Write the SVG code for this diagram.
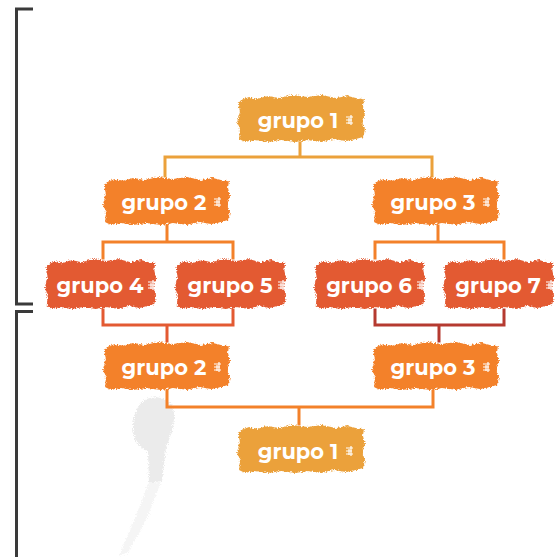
<svg xmlns="http://www.w3.org/2000/svg" width="559" height="557" viewBox="0 0 559 557">
  <style>
    .lbl { font-family: "Montserrat", "Open Sans", "Liberation Sans", sans-serif; font-weight: 700; font-size: 21px; fill: #ffffff; text-anchor: middle; }
    .conn { fill: none; stroke-width: 3; stroke-linecap: square; }
    .bracket { fill: none; stroke: #3a3a3a; stroke-width: 3; }
    .marks { stroke: #ffffff; stroke-width: 1.2; fill: none; }
    .c-top { fill: #EBA13B; }
    .c-mid { fill: #F3812A; }
    .c-low { fill: #E35A32; }
  </style>
  <defs>
    <!-- ragged paint-stroke edge -->
    <filter id="rough" x="-10%" y="-20%" width="120%" height="140%">
      <feTurbulence type="fractalNoise" baseFrequency="0.7" numOctaves="2" seed="3" result="n"/>
      <feDisplacementMap in="SourceGraphic" in2="n" scale="4" xChannelSelector="R" yChannelSelector="G"/>
    </filter>
    <filter id="grain" x="-10%" y="-10%" width="120%" height="120%">
      <feTurbulence type="fractalNoise" baseFrequency="0.9" numOctaves="2" seed="7" result="n"/>
      <feDisplacementMap in="SourceGraphic" in2="n" scale="6" xChannelSelector="R" yChannelSelector="G"/>
    </filter>
    <path id="brush" d="M4,6 L12,3 L20,5 L30,2 L42,4 L55,1 L70,3 L84,1 L98,4 L110,2 L122,5 L126,4 L125,12 L127,20 L124,28 L127,36 L125,44 L118,46 L108,48 L96,46 L84,49 L70,47 L58,49 L44,47 L30,49 L18,47 L8,49 L2,46 L3,36 L0,28 L3,18 L1,10 Z"/>
    <path id="tick" d="M0,0 h7 M0,3 h6 M0,6 h7 M5,-2 v10 M3,1 v6"/>
  </defs>

  <!-- side brackets -->
  <g id="brackets">
    <path class="bracket" d="M33,9 H16.5 V304 H33"/>
    <path class="bracket" d="M33,311.5 H16.5 V557"/>
  </g>

  <!-- faint hand holding a brush -->
  <g id="hand" fill="#ebebeb" filter="url(#grain)">
    <path d="M150,398 C161,395 173,401 174,413 C175,426 169,440 166,448 L162,481 L149,483 L148,451 C140,449 133,440 133,428 C133,412 140,400 150,398 Z"/>
    <path d="M149,483 L161,482 L146,520 L128,552 L119,556 L134,520 Z" opacity="0.5"/>
  </g>

  <!-- connectors -->
  <g id="connectors">
    <path class="conn" stroke="#EBA13B" d="M300,143 V157 M165,176 V157 H432 V176"/>
    <path class="conn" stroke="#F3812A" d="M167,226 V242 M103,258 V242 H233 V258"/>
    <path class="conn" stroke="#F3812A" d="M438,226 V242 M375,258 V242 H504 V258"/>
    <path class="conn" stroke="#E35A32" d="M103,310 V325 H233 V310 M167,325 V341"/>
    <path class="conn" stroke="#B53A30" d="M375,310 V325 H504 V310 M439,325 V341"/>
    <path class="conn" stroke="#F3812A" d="M167,391 V407 H433 V391 M299,407 V424"/>
  </g>

  <!-- nodes -->
  <g id="node-g1-top">
    <use href="#brush" class="c-top" filter="url(#rough)" transform="translate(237,94) scale(1.008,0.98)"/>
    <text class="lbl" x="298" y="128">grupo 1</text>
    <use href="#tick" class="marks" transform="translate(346,117)"/>
  </g>
  <g id="node-g2-top">
    <use href="#brush" class="c-mid" filter="url(#rough)" transform="translate(103,176)"/>
    <text class="lbl" x="164" y="210">grupo 2</text>
    <use href="#tick" class="marks" transform="translate(214,199)"/>
  </g>
  <g id="node-g3-top">
    <use href="#brush" class="c-mid" filter="url(#rough)" transform="translate(372,176)"/>
    <text class="lbl" x="433" y="210">grupo 3</text>
    <use href="#tick" class="marks" transform="translate(483,199)"/>
  </g>
  <g id="node-g4">
    <use href="#brush" class="c-low" filter="url(#rough)" transform="translate(45,258) scale(0.875,1.04)"/>
    <text class="lbl" x="100" y="293">grupo 4</text>
    <use href="#tick" class="marks" transform="translate(148,282)"/>
  </g>
  <g id="node-g5">
    <use href="#brush" class="c-low" filter="url(#rough)" transform="translate(175,258) scale(0.875,1.04)"/>
    <text class="lbl" x="230" y="293">grupo 5</text>
    <use href="#tick" class="marks" transform="translate(278,282)"/>
  </g>
  <g id="node-g6">
    <use href="#brush" class="c-low" filter="url(#rough)" transform="translate(314,258) scale(0.875,1.04)"/>
    <text class="lbl" x="369" y="293">grupo 6</text>
    <use href="#tick" class="marks" transform="translate(417,282)"/>
  </g>
  <g id="node-g7">
    <use href="#brush" class="c-low" filter="url(#rough)" transform="translate(443,258) scale(0.875,1.04)"/>
    <text class="lbl" x="498" y="293">grupo 7</text>
    <use href="#tick" class="marks" transform="translate(546,282)"/>
  </g>
  <g id="node-g2-bottom">
    <use href="#brush" class="c-mid" filter="url(#rough)" transform="translate(103,341)"/>
    <text class="lbl" x="164" y="375">grupo 2</text>
    <use href="#tick" class="marks" transform="translate(214,364)"/>
  </g>
  <g id="node-g3-bottom">
    <use href="#brush" class="c-mid" filter="url(#rough)" transform="translate(372,341)"/>
    <text class="lbl" x="433" y="375">grupo 3</text>
    <use href="#tick" class="marks" transform="translate(483,364)"/>
  </g>
  <g id="node-g1-bottom">
    <use href="#brush" class="c-top" filter="url(#rough)" transform="translate(237,424) scale(1.008,1)"/>
    <text class="lbl" x="298" y="459">grupo 1</text>
    <use href="#tick" class="marks" transform="translate(346,448)"/>
  </g>
</svg>
